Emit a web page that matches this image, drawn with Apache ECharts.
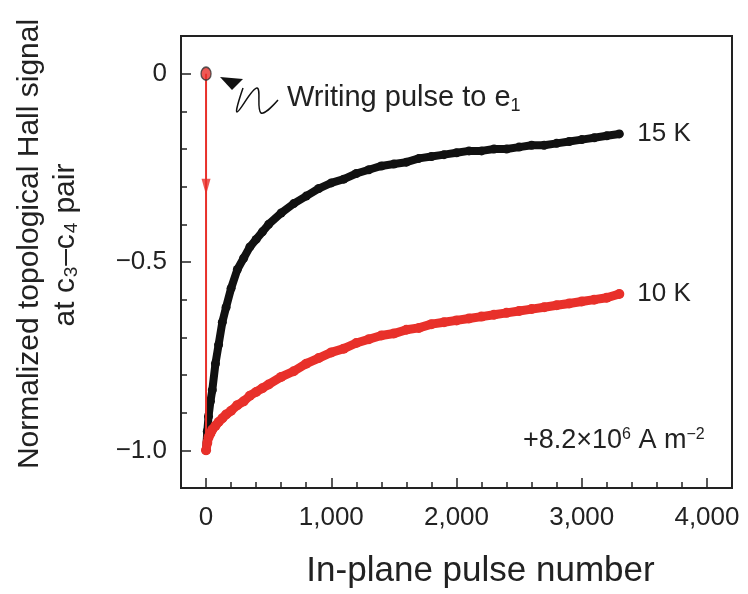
<!DOCTYPE html>
<html><head><meta charset="utf-8">
<script src="https://cdn.jsdelivr.net/npm/echarts@6/dist/echarts.min.js"></script>
<style>html,body{margin:0;padding:0;background:#fff}#c{width:748px;height:594px}</style>
</head><body><div id="c"></div>
<script>
const pulses = [0,10,20,35,50,75,100,130,160,200,250,300,350,400,450,500,600,700,800,900,1000,1100,1200,1300,1400,1500,1600,1700,1800,1900,2000,2100,2200,2300,2400,2500,2600,2700,2800,2900,3000,3100,3200,3300];
const k15 = [-1.0,-0.95,-0.91,-0.87,-0.84,-0.77,-0.72,-0.66,-0.62,-0.57,-0.52,-0.49,-0.46,-0.44,-0.42,-0.40,-0.37,-0.345,-0.325,-0.305,-0.29,-0.28,-0.265,-0.255,-0.245,-0.24,-0.235,-0.225,-0.22,-0.215,-0.21,-0.205,-0.205,-0.2,-0.2,-0.195,-0.19,-0.19,-0.185,-0.18,-0.175,-0.17,-0.165,-0.16];
const k10 = [-1.0,-0.98,-0.965,-0.955,-0.945,-0.935,-0.925,-0.915,-0.905,-0.895,-0.88,-0.87,-0.855,-0.845,-0.835,-0.825,-0.805,-0.79,-0.77,-0.755,-0.74,-0.73,-0.715,-0.705,-0.695,-0.69,-0.68,-0.675,-0.665,-0.66,-0.655,-0.65,-0.645,-0.64,-0.635,-0.63,-0.625,-0.62,-0.615,-0.61,-0.605,-0.6,-0.595,-0.585];
const xMajor = [0,1000,2000,3000,4000];
const xMinor = [-200,200,400,600,800,1200,1400,1600,1800,2200,2400,2600,2800,3200,3400,3600,3800,4200];
const yMajor = [-1.0,-0.5,0];
const yMinor = [-1.1,-0.9,-0.8,-0.7,-0.6,-0.4,-0.3,-0.2,-0.1,0.1];
const writePulse = [[0,0],[0,-1.0]];
const arrowHead = [[0,-0.3]];

const FONT = 'Liberation Sans, Arial, sans-serif';
const C = '#222';
const chart = echarts.init(document.getElementById('c'));
const xFmt = v => v === 0 ? '0' : v.toLocaleString('en-US');
const yFmt = v => Math.abs(v) < 1e-9 ? '0' : (v < 0 ? '\u2212' : '') + Math.abs(v).toFixed(1);
const series = k => pulses.map((p,i)=>[p,k[i]]);

chart.setOption({
  animation:false,
  grid:{left:181,right:16,top:36,bottom:105,show:true,borderColor:C,borderWidth:2,backgroundColor:'transparent'},
  xAxis:[{
    type:'value',min:-200,max:4200,
    name:'In-plane pulse number',nameLocation:'middle',nameGap:66,
    nameTextStyle:{fontFamily:FONT,fontSize:35,color:C,padding:[0,0,0,48]},
    axisLine:{show:true,onZero:false,lineStyle:{color:C,width:2}},
    splitLine:{show:false},
    axisTick:{show:true,inside:true,length:10,customValues:xMajor,lineStyle:{color:C,width:1.5}},
    axisLabel:{customValues:xMajor,formatter:xFmt,fontFamily:FONT,fontSize:26,color:C,margin:17}
  },{
    type:'value',min:-200,max:4200,gridIndex:0,position:'bottom',
    axisLine:{show:false,onZero:false},splitLine:{show:false},
    axisTick:{show:true,inside:true,length:6,customValues:xMinor,lineStyle:{color:C,width:1.5}},
    axisLabel:{show:false}
  }],
  yAxis:[{
    type:'value',min:-1.1,max:0.1,
    axisLine:{show:true,onZero:false,lineStyle:{color:C,width:2}},
    splitLine:{show:false},
    axisTick:{show:true,inside:true,length:10,customValues:yMajor,lineStyle:{color:C,width:1.5}},
    axisLabel:{customValues:yMajor,formatter:yFmt,fontFamily:FONT,fontSize:26,color:C,margin:14}
  },{
    type:'value',min:-1.1,max:0.1,position:'left',
    axisLine:{show:false,onZero:false},splitLine:{show:false},
    axisTick:{show:true,inside:true,length:6,customValues:yMinor,lineStyle:{color:C,width:1.5}},
    axisLabel:{show:false}
  }],
  series:[
    {type:'line',name:'15 K',data:series(k15),showSymbol:true,symbol:'circle',symbolSize:9,
     itemStyle:{color:'#111'},lineStyle:{color:'#111',width:8,cap:'round',join:'round'},
     endLabel:{show:true,formatter:'15 K',distance:18,fontFamily:FONT,fontSize:26,color:C},z:2},
    {type:'line',name:'10 K',data:series(k10),showSymbol:true,symbol:'circle',symbolSize:10,
     itemStyle:{color:'#e8302a'},lineStyle:{color:'#e8302a',width:9,cap:'round',join:'round'},
     endLabel:{show:true,formatter:'10 K',distance:18,fontFamily:FONT,fontSize:26,color:C},z:3},
    {type:'line',data:writePulse,showSymbol:false,lineStyle:{color:'#e8302a',width:2},z:4,silent:true},
    {type:'scatter',data:arrowHead,symbol:'triangle',symbolRotate:180,symbolSize:[9,16],itemStyle:{color:'#e8302a'},z:5},
    {type:'scatter',data:[writePulse[0]],symbol:'circle',symbolSize:[10,13],itemStyle:{color:'#e8302a',borderColor:'#333',borderWidth:1.5},z:6}
  ],
  graphic:[
    {type:'text',x:30,y:244,rotation:Math.PI/2,style:{
      text:'Normalized topological Hall signal',
      align:'center',verticalAlign:'middle',fill:C,fontFamily:FONT,fontSize:30}},
    {type:'text',x:66,y:245,rotation:Math.PI/2,style:{
      text:'at c\u2083\u2013c\u2084 pair',
      align:'center',verticalAlign:'middle',fill:C,fontFamily:FONT,fontSize:30}},
    {type:'text',x:287,y:98,style:{
      text:'{a|Writing pulse to e}{s|1}',align:'left',verticalAlign:'middle',fontFamily:FONT,fontSize:29,
      rich:{a:{fontFamily:FONT,fontSize:29,fill:C,lineHeight:36},s:{fontFamily:FONT,fontSize:18,fill:C,lineHeight:36,padding:[16,0,0,0]}}}},
    {type:'text',x:523,y:441,style:{
      text:'{a|+8.2\u00d710}{p|6}{a| A m}{p|\u22122}',align:'left',verticalAlign:'middle',fontFamily:FONT,fontSize:27,
      rich:{a:{fontFamily:FONT,fontSize:27,fill:C,lineHeight:32},p:{fontFamily:FONT,fontSize:16,fill:C,lineHeight:32,padding:[0,0,12,0]}}}},
    {type:'polyline',shape:{points:[[243,88],[237,112],[257,88],[261,113],[278,100]],smooth:0.4},style:{stroke:'#111',lineWidth:1.5,fill:null}},
    {type:'polygon',shape:{points:[[220,77],[243,79],[232,90]]},style:{fill:'#111'}}
  ]
});
</script></body></html>
